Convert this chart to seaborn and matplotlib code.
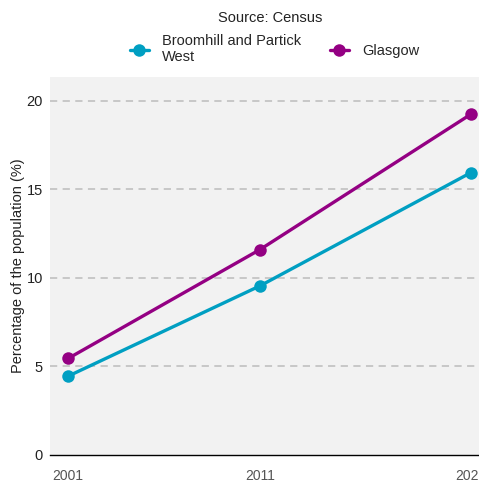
import pandas as pd
import matplotlib.pyplot as plt
import seaborn as sns

# census years (Scotland's latest census was 2022)
years = [2001, 2011, 2022]
broomhill = [4.45, 9.55, 15.95]
glasgow = [5.45, 11.6, 19.25]
areas = ["Broomhill and Partick\nWest", "Glasgow"]
colours = {areas[0]: "#009fc2", areas[1]: "#940083"}

df = pd.DataFrame({
    "year": years * 2,
    "value": broomhill + glasgow,
    "area": [areas[0]] * 3 + [areas[1]] * 3,
})

sns.set_theme(style="white")
plt.rcParams["font.family"] = ["Liberation Sans", "DejaVu Sans"]

fig = plt.figure(figsize=(4.79, 4.83), dpi=100)
ax = fig.add_axes([0.1044, 0.058, 0.9165, 0.7826])
ax.set_facecolor("#f2f2f2")

sns.lineplot(data=df, x="year", y="value", hue="area", palette=colours,
             marker="o", markersize=9, markeredgewidth=0, linewidth=2.4,
             ax=ax)

ax.set_xlim(2000.06, 2022.94)
ax.set_ylim(0, 21.35)
ax.set_xticks(years)
ax.set_yticks([0, 5, 10, 15, 20])
ax.tick_params(axis="x", colors="#555555", labelsize=10, length=3, pad=7)
ax.tick_params(axis="y", labelsize=10.5, length=3, pad=2,
               labelcolor="#222222", color="#333333")
ax.tick_params(axis="x", color="#333333")
for y in [5, 10, 15, 20]:
    ax.axhline(y, color="#c4c4c4", linestyle=(0, (4, 3)), linewidth=1.3, zorder=0)

for s in ["top", "right", "left"]:
    ax.spines[s].set_visible(False)
ax.spines["bottom"].set_color("black")
ax.spines["bottom"].set_linewidth(1)

ax.set_xlabel("")
ax.set_ylabel("Percentage of the population (%)", fontsize=10.5,
              color="#222222", labelpad=1)

# legend title sits above the keys, centred over them
fig.text(0.564, 0.963, "Source: Census", ha="center", va="center",
         fontsize=10.5, color="#222222")
handles, labels = ax.get_legend_handles_labels()
ax.get_legend().remove()
leg = fig.legend(handles, labels, ncol=2, frameon=False,
                 loc="center", bbox_to_anchor=(0.573, 0.898),
                 fontsize=10.5, handlelength=1.3,
                 columnspacing=2.0, handletextpad=0.9, labelspacing=0.2)
for h in leg.legend_handles:
    h.set_linewidth(2.4)

fig.savefig("out.png", dpi=100)
